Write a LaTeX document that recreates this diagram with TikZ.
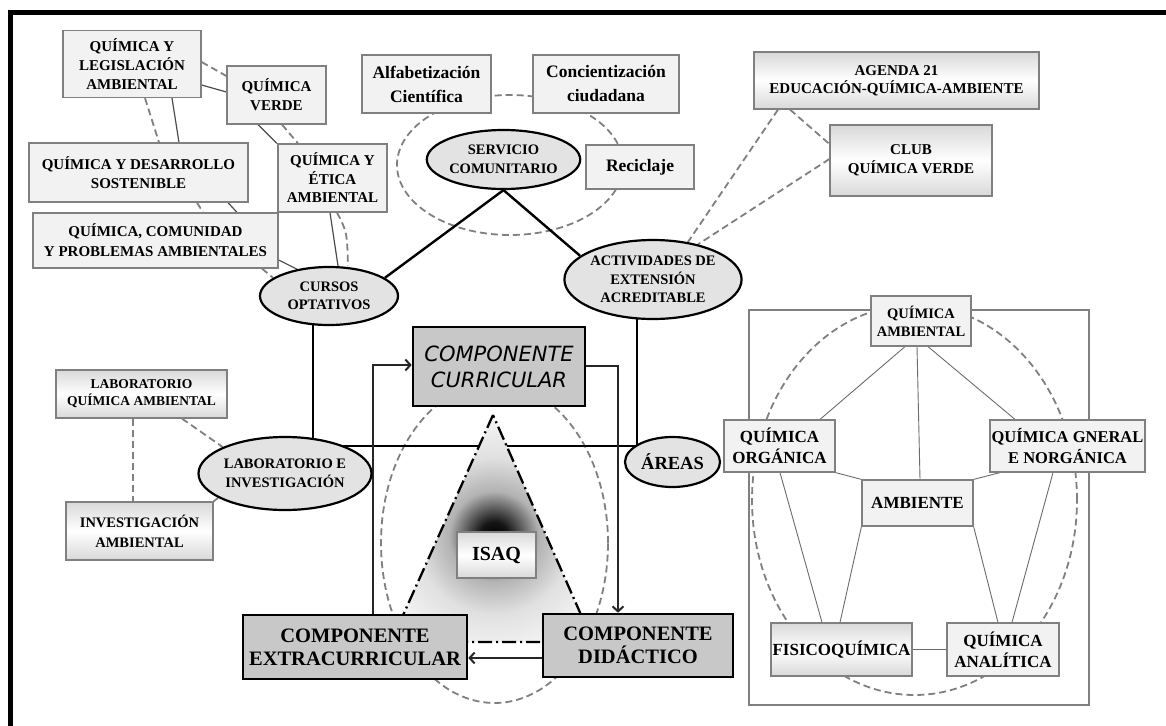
\documentclass[tikz,border=0pt]{standalone}
\usepackage{fontspec}
\setmainfont{Liberation Serif}
\newfontfamily\compfont{DejaVu Sans}
\usetikzlibrary{shapes.geometric,arrows.meta}
\pgfdeclarelayer{background}
\pgfsetlayers{background,main}
% dark glow behind the ISAQ label, fading to white (25bp = circle radius)
\pgfdeclareradialshading{isaqglow}{\pgfpoint{0bp}{0bp}}{%
  color(0bp)=(black); color(2.5bp)=(black!92); color(8bp)=(black!30);
  color(14bp)=(black!12); color(25bp)=(white); color(50bp)=(white)}
\tikzset{
  fsz/.style 2 args={font=\bfseries\fontsize{#1}{#2}\selectfont},
  lbox/.style={draw=gray, line width=1.2pt, fill=gray!10, inner sep=0pt, align=center},
  gbox/.style={lbox, top color=gray!30, bottom color=gray!30, middle color=white},
  oval/.style={ellipse, draw=black, line width=2.2pt, fill=gray!22, inner sep=0pt, align=center},
  cbox/.style={draw=black, line width=2.6pt, fill=gray!43, inner sep=0pt, align=center},
  dsh/.style={gray, line width=1.8pt, dash pattern=on 7pt off 4pt},
  thin/.style={black!70, line width=1.2pt},
  thick/.style={black, line width=2.4pt},
  link/.style={gray!85!black, line width=0.9pt},
  arr/.style={black!85, line width=2pt, -{Straight Barb[length=5pt,width=11pt]}},
  tri/.style={black, line width=2.3pt, dash pattern=on 14pt off 4pt on 2pt off 4pt},
}
\begin{document}
\begin{tikzpicture}[x=1pt,y=-1pt]
\useasboundingbox (0,0) rectangle (1166,725);

% ---- course cluster (upper left)
\node[lbox, fsz={15}{19}, minimum width=138pt, minimum height=67pt] (leg) at (132,64) {QUÍMICA Y\\LEGISLACIÓN\\AMBIENTAL};
\node[lbox, fsz={15}{19}, minimum width=99pt, minimum height=58pt] (verde) at (276.5,95) {QUÍMICA\\VERDE};
\node[lbox, fsz={15}{19}, minimum width=219pt, minimum height=59pt] (des) at (138.5,172.5) {QUÍMICA Y DESARROLLO\\SOSTENIBLE};
\node[lbox, fsz={15}{18.5}, minimum width=109pt, minimum height=68pt] (etica) at (332.5,178) {QUÍMICA Y\\ÉTICA\\AMBIENTAL};
\node[lbox, fsz={15}{20}, minimum width=245pt, minimum height=55pt] (com) at (155.5,240.5) {QUÍMICA, COMUNIDAD\\Y PROBLEMAS AMBIENTALES};
\node[oval, fsz={14.5}{18}, minimum width=138pt, minimum height=58pt] (cursos) at (329,296) {CURSOS\\OPTATIVOS};

% ---- community service cluster
\node[lbox, fsz={17.5}{24}, minimum width=129pt, minimum height=58pt] (alfa) at (426.5,84) {Alfabetización\\Científica};
\node[lbox, fsz={17.5}{24}, minimum width=146pt, minimum height=58pt] (conc) at (606,84) {Concientización\\ciudadana};
\node[oval, fsz={14.5}{19}, minimum width=147pt, minimum height=59pt] (serv) at (503.5,159.5) {SERVICIO\\COMUNITARIO};
\node[lbox, fsz={17.5}{22}, minimum width=108pt, minimum height=44pt] (reci) at (640,167) {Reciclaje};

% ---- extension activities
\node[gbox, fsz={15}{18}, minimum width=285pt, minimum height=57pt] (agenda) at (896.5,80.5) {AGENDA 21\\EDUCACIÓN-QUÍMICA-AMBIENTE};
\node[gbox, fsz={15}{19}, minimum width=162pt, minimum height=71pt] (club) at (911,160.5) {CLUB\\QUÍMICA VERDE};
\node[oval, fsz={14.5}{18.5}, minimum width=172pt, minimum height=79pt] (act) at (653,279.5) {ACTIVIDADES DE\\EXTENSIÓN\\ACREDITABLE};
\node[oval, fsz={18.5}{22}, minimum width=95pt, minimum height=50pt] (areas) at (672.5,462) {ÁREAS};

% ---- laboratory cluster
\node[oval, fsz={14.5}{18.5}, minimum width=152pt, minimum height=73pt] (lab) at (285,473.5) {LABORATORIO E\\INVESTIGACIÓN};
\node[gbox, fsz={13.5}{17}, minimum width=171pt, minimum height=48pt] (labq) at (141.5,394) {LABORATORIO\\QUÍMICA AMBIENTAL};
\node[gbox, fsz={14.5}{20}, minimum width=147pt, minimum height=58pt] (inv) at (139.5,531) {INVESTIGACIÓN\\AMBIENTAL};

% ---- the three components
\node[cbox, font=\compfont\itshape\fontsize{21}{26}\selectfont, minimum width=172pt, minimum height=79pt] (curr) at (499,366.5) {COMPONENTE\\CURRICULAR};
\node[cbox, fsz={20.5}{23}, minimum width=224pt, minimum height=64pt] (extra) at (355,647) {COMPONENTE\\EXTRACURRICULAR};
\node[cbox, fsz={20.5}{23}, minimum width=190pt, minimum height=63pt] (did) at (638,645.5) {COMPONENTE\\DIDÁCTICO};
\node[gbox, fsz={20}{24}, minimum width=79pt, minimum height=46pt] (isaq) at (496.5,555) {ISAQ};

% ---- areas panel
\node[lbox, fsz={14.5}{18}, minimum width=100pt, minimum height=50pt] (qa) at (921,321) {QUÍMICA\\AMBIENTAL};
\node[lbox, fsz={17}{21}, minimum width=111pt, minimum height=52pt] (qo) at (779.5,446) {QUÍMICA\\ORGÁNICA};
\node[lbox, fsz={16.5}{21}, minimum width=155pt, minimum height=52pt] (qg) at (1067.5,446) {QUÍMICA GNERAL\\E NORGÁNICA};
\node[lbox, fsz={17}{21}, minimum width=111pt, minimum height=46pt] (amb) at (917.5,503) {AMBIENTE};
\node[gbox, fsz={17}{21}, minimum width=141pt, minimum height=53pt] (fis) at (841.5,649.5) {FISICOQUÍMICA};
\node[lbox, fsz={17}{21}, minimum width=112pt, minimum height=53pt] (ana) at (1003,649.5) {QUÍMICA\\ANALÍTICA};

\coordinate (apex) at (493,415);
\coordinate (tbl) at (391,642);
\coordinate (tbr) at (593,642);
\coordinate (junction) at (637,446);

\begin{pgfonlayer}{background}
  \fill[white] (0,0) rectangle (1166,725);
  % outer frame
  \draw[black, line width=5pt] (10,735) -- (10,13) -- (1175,13);

  % dashed groupings
  \draw[dsh] (510,165) ellipse [x radius=113pt, y radius=70pt];
  \draw[dsh] (494.5,543) ellipse [x radius=113.5pt, y radius=160pt];
  \draw[gray, line width=2pt] (749,310) rectangle (1089,705);
  \draw[dsh] (914.5,500) ellipse [x radius=162.5pt, y radius=195pt];

  % course cluster links
  \draw[dsh] (leg.east |- 0,62) -- (verde.west |- 0,76);
  \draw[thin] (leg.east |- 0,85) -- (verde.west |- 0,92);
  \draw[dsh] (leg.south -| 145,0) -- (des.north -| 159,0);
  \draw[thin] (leg.south -| 172,0) -- (des.north -| 179,0);
  \draw[thin] (verde.south -| 258,0) -- (etica.north -| 277,0);
  \draw[dsh] (verde.south -| 282,0) -- (etica.north -| 298,0);
  \draw[dsh] (des.south -| 197,0) -- (com.north -| 203,0);
  \draw[thin] (des.south -| 228,0) -- (com.north -| 237,0);
  \draw[thin] (etica.south -| 330,0) -- (cursos.north -| 338,0);
  \draw[dsh] (etica.south -| 337,0) .. controls (347,232) .. (cursos.north -| 348,0);
  \draw[thin] (com.east |- 0,260) -- (cursos.140);
  \draw[dsh] (com.south -| 262,0) -- (cursos.162);

  % main structure
  \draw[thick] (serv.south) -- (cursos.18);
  \draw[thick] (serv.south) -- (act.162);
  \draw[thick] (cursos.center -| 313,0) -- (lab.center -| 313,0);
  \draw[thick] (act.center -| 637,0) -- (junction);
  \draw[thick] (lab.center |- 0,446) -- (areas.center |- 0,446);

  % extension links
  \draw[dsh] (agenda.south -| 778,0) -- (act.47);
  \draw[dsh] (agenda.south -| 790,0) -- (club.west |- 0,144);
  \draw[dsh] (club.west |- 0,159) -- (act.38);

  % laboratory links
  \draw[dsh] (labq.south -| 133,0) -- (inv.north -| 133,0);
  \draw[dsh] (labq.south -| 182,0) -- (lab.157);
  \draw[dsh] (inv.north east) -- (lab.200);

  % areas panel links
  \draw[link] (qa.south -| 905,0) -- (qo.north -| 820,0);
  \draw[link] (qa.south -| 917,0) -- (amb.north -| 920,0);
  \draw[link] (qa.south -| 928,0) -- (qg.north -| 1015,0);
  \draw[link] (qo.south east) -- (amb.north west);
  \draw[link] (qg.south -| 1000,0) -- (amb.north east);
  \draw[link] (qo.south -| 780,0) -- (fis.north -| 822,0);
  \draw[link] (amb.south west) -- (fis.north -| 840,0);
  \draw[link] (amb.south east) -- (ana.north -| 998,0);
  \draw[link] (qg.south -| 1053,0) -- (ana.north -| 1012,0);
  \draw[link] (fis.east) -- (ana.west);

  % shaded triangle
  \begin{scope}
    \clip (apex) -- (tbl) -- (tbr) -- cycle;
    \shade[shading=isaqglow] (494,536) circle (140pt);
  \end{scope}
  \draw[tri] (apex) -- (tbl) -- (tbr) -- cycle;

  % component cycle
  \draw[arr] (extra.north -| 373,0) |- (curr.west |- 0,365);
  \draw[arr] (curr.east |- 0,366) -| (did.north -| 618,0);
  \draw[arr] (did.west |- 0,658) -- (extra.east |- 0,658);
\end{pgfonlayer}
\end{tikzpicture}
\end{document}
